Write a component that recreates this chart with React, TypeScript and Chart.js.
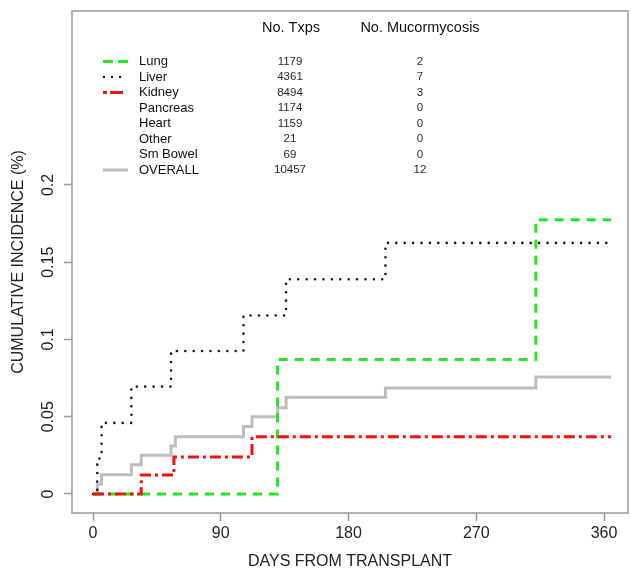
import React, { useEffect, useRef } from 'react';
import { Chart, registerables } from 'chart.js';

Chart.register(...registerables);

// ---- data ----
const X_TICKS = [0, 90, 180, 270, 360];
const Y_TICKS = [0, 0.05, 0.1, 0.15, 0.2];

const LUNG_DAYS = [0, 130, 312, 365];
const LUNG_CI = [0, 0.087, 0.1775, 0.1775];

const LIVER_DAYS = [0, 3, 6, 27, 55, 106, 136, 206, 365];
const LIVER_CI = [0, 0.023, 0.046, 0.0695, 0.0925, 0.1155, 0.139, 0.1625, 0.1625];

const KIDNEY_DAYS = [0, 34, 57, 112, 365];
const KIDNEY_CI = [0, 0.0123, 0.024, 0.037, 0.037];

const OVERALL_DAYS = [0, 3, 6, 27, 34, 55, 58, 106, 112, 130, 136, 206, 312, 365];
const OVERALL_CI = [0, 0.0065, 0.0125, 0.019, 0.025, 0.031, 0.037, 0.0437, 0.05, 0.0558, 0.0626, 0.0686, 0.0758, 0.0758];

const ORGANS = ['Lung', 'Liver', 'Kidney', 'Pancreas', 'Heart', 'Other', 'Sm Bowel', 'OVERALL'];
const NO_TXPS = ['1179', '4361', '8494', '1174', '1159', '21', '69', '10457'];
const NO_MUCOR = ['2', '7', '3', '0', '0', '0', '0', '12'];

const FONT = '"Liberation Sans", Arial, Helvetica, sans-serif';
const GREEN = '#1ee81e';
const RED = '#f50f0f';
const DOTS = '#1a1a1a';
const GRAY = '#bdbdbd';
const AXIS = '#9a9a9a';

const toPts = (xs: number[], ys: number[]) => xs.map((x, i) => ({ x, y: ys[i] }));

const rPlugin = {
  id: 'rStyle',
  afterDraw(chart: any) {
    const { ctx, chartArea: a } = chart;
    ctx.save();
    // R-style box
    ctx.strokeStyle = AXIS;
    ctx.lineWidth = 1.5;
    ctx.setLineDash([]);
    ctx.strokeRect(a.left, a.top, a.right - a.left, a.bottom - a.top);

    // legend table
    ctx.textBaseline = 'middle';
    ctx.fillStyle = '#111';
    ctx.font = `14.5px ${FONT}`;
    ctx.textAlign = 'center';
    ctx.fillText('No. Txps', 291, 28);
    ctx.fillText('No. Mucormycosis', 420, 28);

    const rowY = (i: number) => 61.5 + i * 15.5;
    ORGANS.forEach((name, i) => {
      const y = rowY(i);
      ctx.textAlign = 'left';
      ctx.fillStyle = '#111';
      ctx.font = `13px ${FONT}`;
      ctx.fillText(name, 139, y);
      ctx.textAlign = 'center';
      ctx.fillStyle = '#2a2a2a';
      ctx.font = `11.5px ${FONT}`;
      ctx.fillText(NO_TXPS[i], 290, y);
      ctx.fillText(NO_MUCOR[i], 420, y);
    });

    const sample = (i: number, color: string, width: number, dash: number[], cap: CanvasLineCap, x0: number, x1: number) => {
      const y = rowY(i);
      ctx.beginPath();
      ctx.strokeStyle = color;
      ctx.lineWidth = width;
      ctx.lineCap = cap;
      ctx.setLineDash(dash);
      ctx.moveTo(x0, y);
      ctx.lineTo(x1, y);
      ctx.stroke();
    };
    sample(0, GREEN, 3, [10, 5], 'butt', 103, 128);
    sample(1, DOTS, 2.5, [0, 8], 'round', 104, 122);
    sample(2, RED, 3, [4, 3, 13, 5], 'butt', 103, 126);
    sample(7, GRAY, 3, [], 'butt', 103, 128);
    ctx.restore();
  },
};

export default function App() {
  const ref = useRef<HTMLCanvasElement | null>(null);

  useEffect(() => {
    if (!ref.current) return;
    const chart = new Chart(ref.current, {
      type: 'line',
      data: {
        datasets: [
          {
            label: 'Kidney',
            data: toPts(KIDNEY_DAYS, KIDNEY_CI),
            borderColor: RED,
            borderWidth: 3,
            borderDash: [11, 4, 3, 4],
            stepped: 'before',
            pointRadius: 0,
            fill: false,
            order: 0,
          },
          {
            label: 'Lung',
            data: toPts(LUNG_DAYS, LUNG_CI),
            borderColor: GREEN,
            borderWidth: 3,
            borderDash: [9, 7],
            stepped: 'before',
            pointRadius: 0,
            fill: false,
            order: 1,
          },
          {
            label: 'Liver',
            data: toPts(LIVER_DAYS, LIVER_CI),
            borderColor: DOTS,
            borderWidth: 2.6,
            borderDash: [0, 8.4],
            borderCapStyle: 'round',
            stepped: 'before',
            pointRadius: 0,
            fill: false,
            order: 2,
          },
          {
            label: 'OVERALL',
            data: toPts(OVERALL_DAYS, OVERALL_CI),
            borderColor: GRAY,
            borderWidth: 3,
            stepped: 'before',
            pointRadius: 0,
            fill: false,
            order: 3,
          },
        ] as any,
      },
      options: {
        responsive: false,
        animation: false,
        devicePixelRatio: 1,
        layout: { padding: { top: 11, right: 3, left: 0, bottom: 0 } },
        plugins: {
          legend: { display: false },
          tooltip: { enabled: false },
          title: { display: false },
        },
        scales: {
          x: {
            type: 'linear',
            min: -14.8,
            max: 376.9,
            afterBuildTicks: (s: any) => {
              s.ticks = X_TICKS.map((v) => ({ value: v }));
            },
            afterFit: (s: any) => {
              s.height = 61;
              s.paddingLeft = 0;
              s.paddingRight = 0;
            },
            border: { display: false },
            grid: {
              display: true,
              drawOnChartArea: false,
              drawTicks: true,
              tickLength: 8,
              tickColor: AXIS,
              tickWidth: 1.5,
            },
            ticks: {
              color: '#222',
              font: { family: FONT, size: 16 },
              padding: 3,
              maxRotation: 0,
              callback: (v: any) => String(v),
            },
            title: {
              display: true,
              text: 'DAYS FROM TRANSPLANT',
              color: '#222',
              font: { family: FONT, size: 16 },
              padding: { top: 0, bottom: 2.4 },
            },
          },
          y: {
            type: 'linear',
            min: -0.0123,
            max: 0.3126,
            afterBuildTicks: (s: any) => {
              s.ticks = Y_TICKS.map((v) => ({ value: v }));
            },
            afterFit: (s: any) => {
              s.width = 72;
              s.paddingTop = 0;
              s.paddingBottom = 0;
            },
            border: { display: false },
            grid: {
              display: true,
              drawOnChartArea: false,
              drawTicks: true,
              tickLength: 8,
              tickColor: AXIS,
              tickWidth: 1.5,
            },
            ticks: {
              color: '#222',
              font: { family: FONT, size: 16 },
              padding: 0,
              minRotation: 90,
              maxRotation: 90,
              crossAlign: 'center',
              callback: (v: any) => String(v),
            },
            title: {
              display: true,
              text: 'CUMULATIVE INCIDENCE (%)',
              color: '#222',
              font: { family: FONT, size: 16 },
              padding: { top: 9.4, bottom: 0 },
            },
          },
        },
      } as any,
      plugins: [rPlugin],
    });
    return () => chart.destroy();
  }, []);

  return (
    <div style={{ position: 'fixed', left: 0, top: 0, width: 631, height: 574, background: '#fff' }}>
      <canvas ref={ref} width={631} height={574} style={{ display: 'block' }} />
    </div>
  );
}
